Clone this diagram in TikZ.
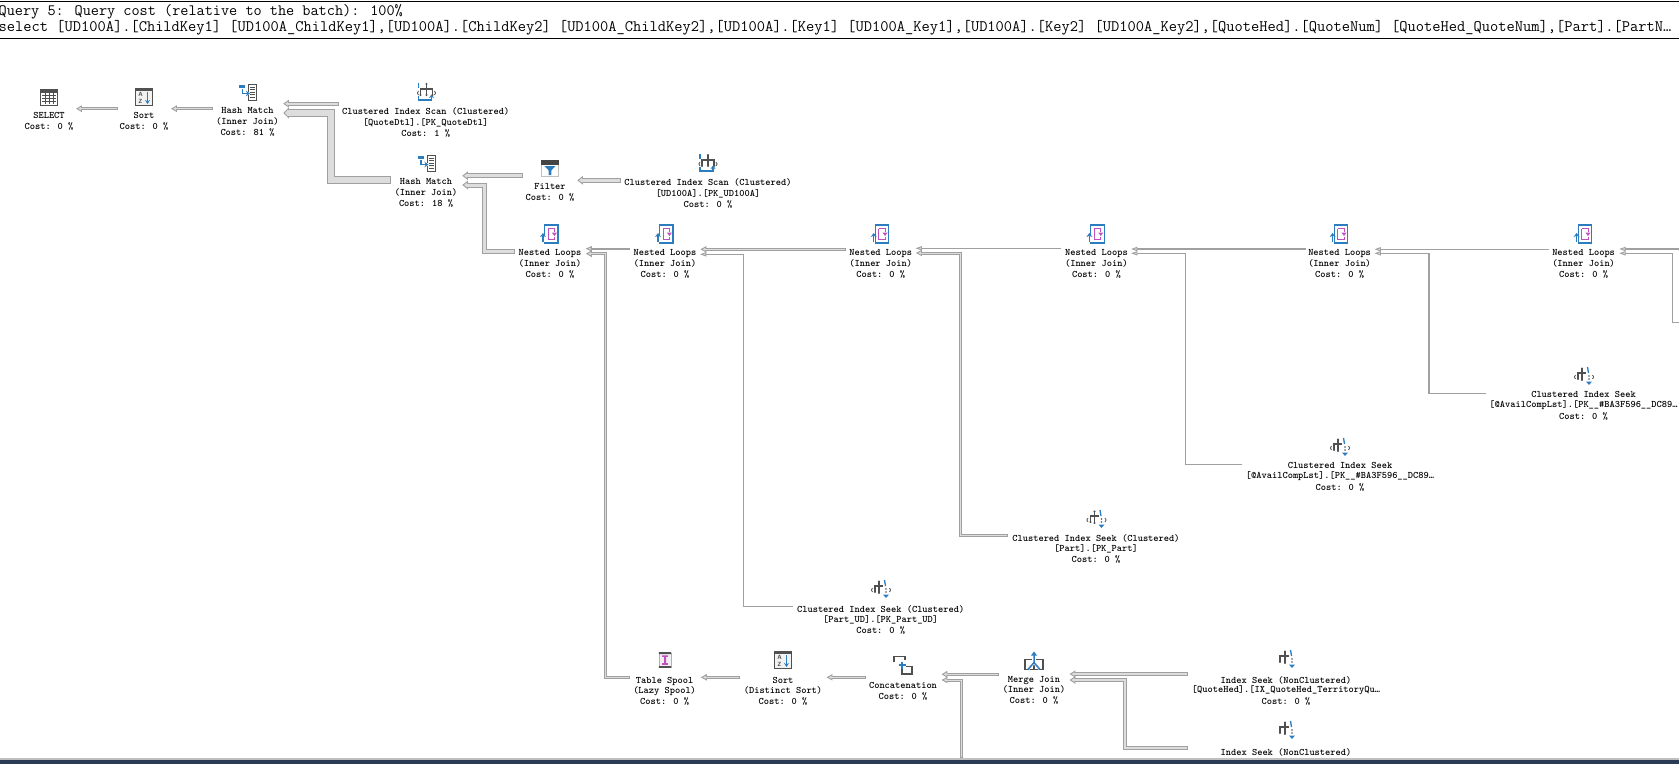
\documentclass[tikz,border=0pt]{standalone}
\usetikzlibrary{calc,arrows.meta}
\definecolor{ink}{HTML}{505050}
\definecolor{opblue}{HTML}{2C7DC0}
\definecolor{opmag}{HTML}{C04FC0}
\definecolor{flowline}{HTML}{A0A0A0}
\definecolor{flowfill}{HTML}{DDDDDD}
\definecolor{barnavy}{HTML}{2B3A55}
\newcommand\nl{\\[0pt]}
\newcommand\flow[3]{%
  \pgfmathsetmacro\flowhh{#1/2+1}%
  \pgfmathsetmacro\flowin{#1-2}%
  \draw[color=flowline,line width=#1pt,shorten >=3pt] #2;
  \filldraw[flowhead] (#3) -- ++(4.5,-\flowhh) -- ++(0,2*\flowhh) -- cycle;
  \ifdim #1pt>2pt
    \draw[color=flowfill,line width=\flowin pt,shorten >=3pt,shorten <=1pt] #2;
  \fi}
\tikzset{
  oplabel/.style={font=\ttfamily\bfseries\fontsize{9.95}{11}\selectfont,align=center,
    anchor=north,inner sep=0pt,yshift=2.4pt,execute at begin node={\rule{0pt}{8pt}}},
  flowhead/.style={draw=flowline,fill=flowfill,line width=0.9pt,miter limit=4},
  headline/.style={font=\ttfamily\fontsize{16}{16}\selectfont,anchor=west,inner sep=0pt},
  titleline/.style={font=\ttfamily\fontsize{15.8}{16}\selectfont,anchor=west,inner sep=0pt},
  darkln/.style={draw=ink,line width=1.2pt},
  blueln/.style={draw=opblue,line width=1.3pt},
  pics/opgrid/.style={code={
    \draw[ink,fill=white,line width=1pt] (-8.5,-8) rectangle (8.5,8);
    \fill[ink] (-8.5,-8) rectangle (8.5,-4.5);
    \foreach \v in {-1.5,1.5,4.5}{\draw[ink,line width=.9pt] (-7,\v) -- (7,\v);}
    \foreach \v in {-4,0,4}{\draw[ink,line width=.9pt] (\v,-4) -- (\v,7);}
  }},
  pics/opsort/.style={code={
    \draw[ink,fill=white!95!black,line width=1pt] (-8.5,-8.5) rectangle (8.5,8.5);
    \fill[ink] (-8.5,-8.5) rectangle (8.5,-6.5);
    \node[font=\sffamily\bfseries\fontsize{6}{6}\selectfont,text=ink,inner sep=0pt] at (-3.5,-2.5) {A};
    \node[font=\sffamily\bfseries\fontsize{6}{6}\selectfont,text=ink,inner sep=0pt] at (-3.5,4) {Z};
    \draw[opblue,line width=1.4pt,-{Stealth[length=4pt,width=5pt]}] (3.5,-5) -- (3.5,7);
  }},
  pics/ophash/.style={code={
    \draw[ink,fill=white,line width=1pt] (0.5,-8) rectangle (8.5,8.5);
    \foreach \v in {-5,-2.5,0,2.5,5}{\draw[ink,line width=.9pt] (2,\v) -- (7,\v);}
    \fill[opblue] (-9,-7) rectangle (-3,-4.5);
    \draw[white,line width=3pt] (-5.5,-2.5) -- (-5.5,1.5) -- (1,1.5);
    \draw[opblue,line width=1.5pt,-{Stealth[length=4pt,width=5.5pt]}] (-5.5,-3) -- (-5.5,1.5) -- (2,1.5);
  }},
  pics/optree/.style={code={
    \draw[darkln] (0,-8) -- (0,3);
    \draw[darkln] (-6,3) -- (-6,-3) -- (6,-3) -- (6,3);
    \fill[ink] (0,-8) circle (1.2) (0,3) circle (1.2) (-6,3) circle (1.2) (6,3) circle (1.2);
    \draw[ink,line width=.8pt] (-8,-1) .. controls (-9.5,1) .. (-8,3);
    \draw[ink,line width=.8pt] (8,-1) .. controls (9.5,1) .. (8,3);
    \draw[blueln] (-8,-9) -- (-8,-4);
    \draw[blueln,-{Stealth[length=3.5pt,width=5pt]}] (-8,4) -- (-8,8) -- (5,8) -- (5,2.5);
  }},
  pics/opseekparen/.style={code={
    \draw[darkln] (-2,-7.5) -- (-2,4);
    \draw[darkln] (-6,3) -- (-6,-3) -- (2,-3);
    \fill[ink] (-2,-7.5) circle (1.1) (-2,4) circle (1.1) (-6,3) circle (1.1);
    \draw[ink,line width=.8pt] (-8.5,-1) .. controls (-10,1) .. (-8.5,3);
    \draw[ink,line width=.8pt] (8.5,-1) .. controls (10,1) .. (8.5,3);
    \draw[blueln] (3.5,-9) -- (4.5,-3);
    \fill[ink] (5,0) circle (.9) (5,3) circle (.9);
    \fill[opblue] (2,5.5) -- (8,5.5) -- (5,9) -- cycle;
  }},
  pics/opseek/.style={code={
    \draw[darkln] (-2,-7.5) -- (-2,4);
    \draw[darkln] (-7,3) -- (-7,-3) -- (2,-3);
    \fill[ink] (-2,-7.5) circle (1.1) (-2,4) circle (1.1) (-7,3) circle (1.1);
    \draw[blueln] (3.5,-9) -- (4.5,-3);
    \fill[ink] (5,0) circle (.9) (5,3) circle (.9);
    \fill[opblue] (2,5.5) -- (8,5.5) -- (5,9) -- cycle;
  }},
  pics/opfilter/.style={code={
    \draw[black!25,fill=white,line width=.8pt] (-8.7,-7.5) rectangle (8.7,8);
    \fill[ink!85!black] (-9,-8) rectangle (9,-3.5);
    \fill[opblue] (-5.5,-2) -- (5.5,-2) -- (1.3,2.5) -- (1.3,7) -- (-1.3,7) -- (-1.3,2.5) -- cycle;
  }},
  pics/opnested/.style={code={
    \draw[opblue,line width=1.1pt,fill=white] (-5.5,-9) rectangle (8,9);
    \draw[white,line width=3pt] (-7,1) -- (-7,8);
    \draw[opblue,line width=1.5pt,-{Stealth[length=4pt,width=6pt]}] (-7,8) -- (-7,-1);
    \draw[opmag,line width=1pt] (-2,-5.5) -- (4.5,-5.5) -- (4.5,-2);
    \draw[opmag,line width=1pt] (-2,-5.5) -- (-2,5.5) -- (4.5,5.5) -- (4.5,3);
    \fill[opmag] (1.8,-1.5) -- (7,-1.5) -- (4.4,2) -- cycle;
  }},
  pics/opspool/.style={code={
    \fill[black!6] (-6,-7.5) rectangle (6,7.5);
    \draw[black!30,line width=.8pt] (-6,-7.5) -- (-6,7.5) (6,-7.5) -- (6,7.5);
    \fill[ink] (-6.2,-7.8) rectangle (6.2,-6) (-6.2,6) rectangle (6.2,7.8);
    \fill[opmag] (-2.8,-4.6) rectangle (2.8,-3.2) (-1,-3.4) rectangle (1,3.4) (-2.8,3) rectangle (2.8,4.8);
  }},
  pics/opconcat/.style={code={
    \draw[ink,line width=1.5pt] (-9,-3) -- (-9,-8.5) -- (2,-8.5) -- (2,-5);
    \draw[ink,line width=1.2pt] (-1,3) -- (-1,9) -- (9,9) -- (9,1.5) -- (3,1.5);
    \draw[white,line width=3.5pt] (-5,0) -- (3,0) (-1,-4) -- (-1,4);
    \draw[opblue,line width=1.8pt] (-4.5,0) -- (2.5,0) (-1,-3.5) -- (-1,3.5);
  }},
  pics/opmerge/.style={code={
    \draw[ink,line width=1.3pt] (-9,-1) rectangle (-0.5,9);
    \draw[ink,line width=1.3pt] (0.5,-1) rectangle (9,9);
    \draw[white,line width=3.6pt] (-6,8) -- (0,1.5) -- (6,8) (0,1.5) -- (0,-6);
    \draw[opblue,line width=1.5pt] (-6,9) -- (0,2) -- (6,9) (0,2) -- (0,-6);
    \fill[opblue] (-3,-5) -- (3,-5) -- (0,-9) -- cycle;
  }},
}
\begin{document}
\begin{tikzpicture}[x=1pt,y=-1pt]
\useasboundingbox (0,0) rectangle (1679,764);
\fill[white] (0,0) rectangle (1679,764);
\clip (0,0) rectangle (1679,764);
% header
\draw[black,line width=1pt] (0,1.2) -- (1679,1.2);
\draw[black,line width=1pt] (0,38.3) -- (1679,38.3);
\node[titleline] (qtitle) at (-1.5,12) {Query 5: Query cost (relative to the batch): 100\%};
\node[headline] (qsql) at (-1.5,28) {select [UD100A].[ChildKey1] [UD100A\_ChildKey1],[UD100A].[ChildKey2] [UD100A\_ChildKey2],[UD100A].[Key1] [UD100A\_Key1],[UD100A].[Key2] [UD100A\_Key2],[QuoteHed].[QuoteNum] [QuoteHed\_QuoteNum],[Part].[PartN…};
% bottom bar
\fill[black!25] (0,758) rectangle (1679,760);
\fill[barnavy] (0,759.5) rectangle (1679,764);
% operators
\pic at (49,97) {opgrid};
\node[oplabel] (select) at (49,115) {SELECT\nl Cost: 0 \%};
\pic at (144,97) {opsort};
\node[oplabel] (sort) at (144,115) {Sort\nl Cost: 0 \%};
\pic at (248,92) {ophash};
\node[oplabel] (hm1) at (247.5,110) {Hash Match\nl (Inner Join)\nl Cost: 81 \%};
\pic at (426.5,92) {optree};
\node[oplabel] (cis1) at (425.7,110) {Clustered Index Scan (Clustered)\nl [QuoteDtl].[PK\_QuoteDtl]\nl Cost: 1 \%};
\pic at (426.5,163) {ophash};
\node[oplabel] (hm2) at (426,181) {Hash Match\nl (Inner Join)\nl Cost: 18 \%};
\pic at (550,168) {opfilter};
\node[oplabel] (filter) at (550,186) {Filter\nl Cost: 0 \%};
\pic at (708,163) {optree};
\node[oplabel] (cis2) at (708,181) {Clustered Index Scan (Clustered)\nl [UD100A].[PK\_UD100A]\nl Cost: 0 \%};
\foreach \nm/\xx in {nlA/550,nlB/665,nlC/880.7,nlD/1096.4,nlE/1339.6,nlF/1583.6}{
  \pic at (\xx,234) {opnested};
  \node[oplabel] (\nm) at (\xx,252) {Nested Loops\nl (Inner Join)\nl Cost: 0 \%};
}
\pic at (1584,376) {opseekparen};
\node[oplabel] (availB) at (1583.5,394) {Clustered Index Seek\\[-1.7pt] [@AvailCompLst].[PK\_\_\#BA3F596\_\_DC89…\\[1.7pt] Cost: 0 \%};
\pic at (1340,447) {opseekparen};
\node[oplabel] (availA) at (1340,465) {Clustered Index Seek\\[-1.7pt] [@AvailCompLst].[PK\_\_\#BA3F596\_\_DC89…\\[1.7pt] Cost: 0 \%};
\pic at (1096.5,519) {opseekparen};
\node[oplabel] (part) at (1096,537) {Clustered Index Seek (Clustered)\\[-1pt] [Part].[PK\_Part]\nl Cost: 0 \%};
\pic at (881,589) {opseekparen};
\node[oplabel] (partud) at (880.7,608) {Clustered Index Seek (Clustered)\\[-1pt] [Part\_UD].[PK\_Part\_UD]\nl Cost: 0 \%};
\pic at (665,660) {opspool};
\node[oplabel] (spool) at (664.6,679) {Table Spool\\[-1pt] (Lazy Spool)\nl Cost: 0 \%};
\pic at (783,660) {opsort};
\node[oplabel] (dsort) at (783,679) {Sort\\[-1pt] (Distinct Sort)\nl Cost: 0 \%};
\pic at (903,665) {opconcat};
\node[oplabel] (concat) at (903,684) {Concatenation\nl Cost: 0 \%};
\pic at (1034,660.5) {opmerge};
\node[oplabel] (merge) at (1034,679) {Merge Join\\[-1pt] (Inner Join)\nl Cost: 0 \%};
\pic at (1287,659) {opseek};
\node[oplabel] (seekA) at (1286,679) {Index Seek (NonClustered)\\[-2pt] [QuoteHed].[IX\_QuoteHed\_TerritoryQu…\\[1pt] Cost: 0 \%};
\pic at (1287,730) {opseek};
\node[oplabel] (seekB) at (1286,750) {Index Seek (NonClustered)};
% connector ports
\coordinate (select-in) at (77,108.7);
\coordinate (sort-out) at (117.5,108.7); \coordinate (sort-in) at (172,108.7);
\coordinate (hm1-out) at (212.5,108.7); \coordinate (hm1-inA) at (284,103.7); \coordinate (hm1-inB) at (284,113);
\coordinate (cis1-out) at (338.6,103.7);
\coordinate (hm2-out) at (390.7,180); \coordinate (hm2-inA) at (463,175.7); \coordinate (hm2-inB) at (463,185);
\coordinate (filter-out) at (522.5,175.7); \coordinate (filter-in) at (578,180.3);
\coordinate (cis2-out) at (620.7,180.3);
\coordinate (nlA-out) at (514.6,251.3); \coordinate (nlA-inA) at (586.8,248.7); \coordinate (nlA-inB) at (586.8,253.7);
\coordinate (nlB-out) at (629.6,248.7); \coordinate (nlB-inA) at (701.4,249.3); \coordinate (nlB-inB) at (701.4,254.3);
\coordinate (nlC-out) at (845.7,249.3); \coordinate (nlC-inA) at (917,248.3); \coordinate (nlC-inB) at (917,253);
\coordinate (nlD-out) at (1061,248.3); \coordinate (nlD-inA) at (1132.5,249); \coordinate (nlD-inB) at (1132.5,253.3);
\coordinate (nlE-out) at (1305.7,249); \coordinate (nlE-inA) at (1376,249.3); \coordinate (nlE-inB) at (1376,253.3);
\coordinate (nlF-out) at (1548.6,249.3); \coordinate (nlF-inA) at (1620.7,249); \coordinate (nlF-inB) at (1620.7,253.3);
\coordinate (offA) at (1682,249); \coordinate (offB) at (1682,322.3);
\coordinate (spool-out) at (629.6,677.3); \coordinate (spool-in) at (701.8,677.3);
\coordinate (dsort-out) at (739.6,677.3); \coordinate (dsort-in) at (827.5,677.3);
\coordinate (concat-out) at (866,677.3); \coordinate (concat-inA) at (942.5,674.3); \coordinate (concat-inB) at (942.5,680);
\coordinate (offC) at (961,758);
\coordinate (merge-out) at (998.6,674.3); \coordinate (merge-inA) at (1070.4,674); \coordinate (merge-inB) at (1070.4,680);
\coordinate (seekA-out) at (1187.8,674); \coordinate (seekB-out) at (1187.8,748.3);
\coordinate (partud-out) at (792.5,606.3); \coordinate (part-out) at (1008,535.3);
\coordinate (availA-out) at (1241.8,464.3); \coordinate (availB-out) at (1485.7,393.3);
% connectors
\flow{3.4}{(sort-out) -- (select-in)}{select-in}
\flow{3.4}{(hm1-out) -- (sort-in)}{sort-in}
\flow{4.2}{(cis1-out) -- (hm1-inA)}{hm1-inA}
\flow{7.2}{(hm2-out) -- ++(-59.7,0) |- (hm1-inB)}{hm1-inB}
\flow{5}{(filter-out) -- (hm2-inA)}{hm2-inA}
\flow{5}{(nlA-out) -- ++(-30.6,0) |- (hm2-inB)}{hm2-inB}
\flow{5}{(cis2-out) -- (filter-in)}{filter-in}
\flow{2}{(nlB-out) -- (nlA-inA)}{nlA-inA}
\flow{3.2}{(spool-out) -- ++(-24.2,0) |- (nlA-inB)}{nlA-inB}
\flow{3}{(nlC-out) -- (nlB-inA)}{nlB-inA}
\flow{1.3}{(partud-out) -- ++(-49.3,0) |- (nlB-inB)}{nlB-inB}
\flow{1.3}{(nlD-out) -- (nlC-inA)}{nlC-inA}
\flow{3}{(part-out) -- ++(-47.6,0) |- (nlC-inB)}{nlC-inB}
\flow{1.3}{(nlE-out) -- (nlD-inA)}{nlD-inA}
\flow{1.3}{(availA-out) -- ++(-56.4,0) |- (nlD-inB)}{nlD-inB}
\flow{1.3}{(nlF-out) -- (nlE-inA)}{nlE-inA}
\flow{1.3}{(availB-out) -- ++(-56.7,0) |- (nlE-inB)}{nlE-inB}
\flow{1.3}{(offA) -- (nlF-inA)}{nlF-inA}
\flow{1.3}{(offB) -- ++(-9.5,0) |- (nlF-inB)}{nlF-inB}
\flow{3}{(dsort-out) -- (spool-in)}{spool-in}
\flow{3}{(concat-out) -- (dsort-in)}{dsort-in}
\flow{3.5}{(merge-out) -- (concat-inA)}{concat-inA}
\flow{3}{(offC) |- (concat-inB)}{concat-inB}
\flow{3.5}{(seekA-out) -- (merge-inA)}{merge-inA}
\flow{4}{(seekB-out) -- ++(-62.4,0) |- (merge-inB)}{merge-inB}
\end{tikzpicture}
\end{document}
